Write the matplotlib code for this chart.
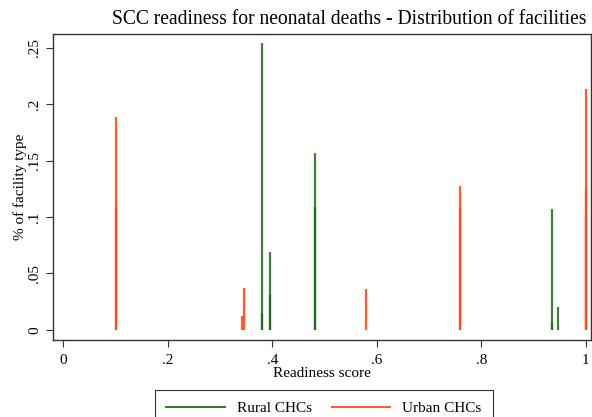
import matplotlib
matplotlib.use("Agg")
import matplotlib.pyplot as plt
from matplotlib.lines import Line2D

# ------------------ data ------------------
rural_score = [0.380, 0.380, 0.395, 0.395, 0.481, 0.481, 0.935, 0.935, 0.946]
rural_share = [0.254, 0.015, 0.069, 0.031, 0.157, 0.109, 0.107, 0.007, 0.020]

urban_score = [0.100, 0.100, 0.342, 0.345, 0.580, 0.760, 0.760, 1.000, 1.000, 1.000]
urban_share = [0.189, 0.109, 0.012, 0.037, 0.036, 0.127, 0.107, 0.213, 0.125, 0.101]

xticks = [0, 0.2, 0.4, 0.6, 0.8, 1.0]
xtick_labels = ["0", ".2", ".4", ".6", ".8", "1"]
yticks = [0, 0.05, 0.1, 0.15, 0.2, 0.25]
ytick_labels = ["0", ".05", ".1", ".15", ".2", ".25"]

plt.rcParams.update({
    "font.family": "serif",
    "font.serif": ["Liberation Serif", "DejaVu Serif"],
})

GREEN = "#1a6b1a"
ORANGE = "#ff4a10"

fig = plt.figure(figsize=(5.92, 4.17), dpi=100)
ax = fig.add_axes([0.0895, 0.185, 0.909, 0.733])

ax.vlines(rural_score, 0, rural_share, color=GREEN, lw=1.6, alpha=0.85)
ax.vlines(urban_score, 0, urban_share, color=ORANGE, lw=1.6, alpha=0.9)

ax.set_xlim(-0.02, 1.01)
ax.set_ylim(-0.009, 0.262)
ax.set_xticks(xticks)
ax.set_xticklabels(xtick_labels, fontsize=11)
ax.set_yticks(yticks)
ax.set_yticklabels(ytick_labels, fontsize=11, rotation=90, va="center")
ax.tick_params(direction="out", length=5, width=0.8, colors="#333333",
               labelcolor="black")
ax.tick_params(axis="x", pad=5.5)
for s in ax.spines.values():
    s.set_linewidth(1.0)
    s.set_color("#333333")

ax.set_xlabel("Readiness score", fontsize=11, labelpad=0)
ax.set_ylabel("% of facility type", fontsize=11, labelpad=1)
fig.text(0.59, 0.975, "SCC readiness for neonatal deaths - Distribution of facilities",
         fontsize=14.1, ha="center", va="top")

handles = [Line2D([], [], color=GREEN, lw=1.3),
           Line2D([], [], color=ORANGE, lw=1.3)]
leg = fig.legend(handles, ["Rural CHCs", "Urban CHCs"], ncol=2,
                 loc="upper center", bbox_to_anchor=(0.547, 0.065), fontsize=11,
                 frameon=True, fancybox=False, edgecolor="black",
                 handlelength=3.8, handletextpad=0.8, columnspacing=1.3,
                 borderpad=0.75, borderaxespad=0)
leg.get_frame().set_linewidth(0.8)

fig.savefig("out.png", dpi=100)
